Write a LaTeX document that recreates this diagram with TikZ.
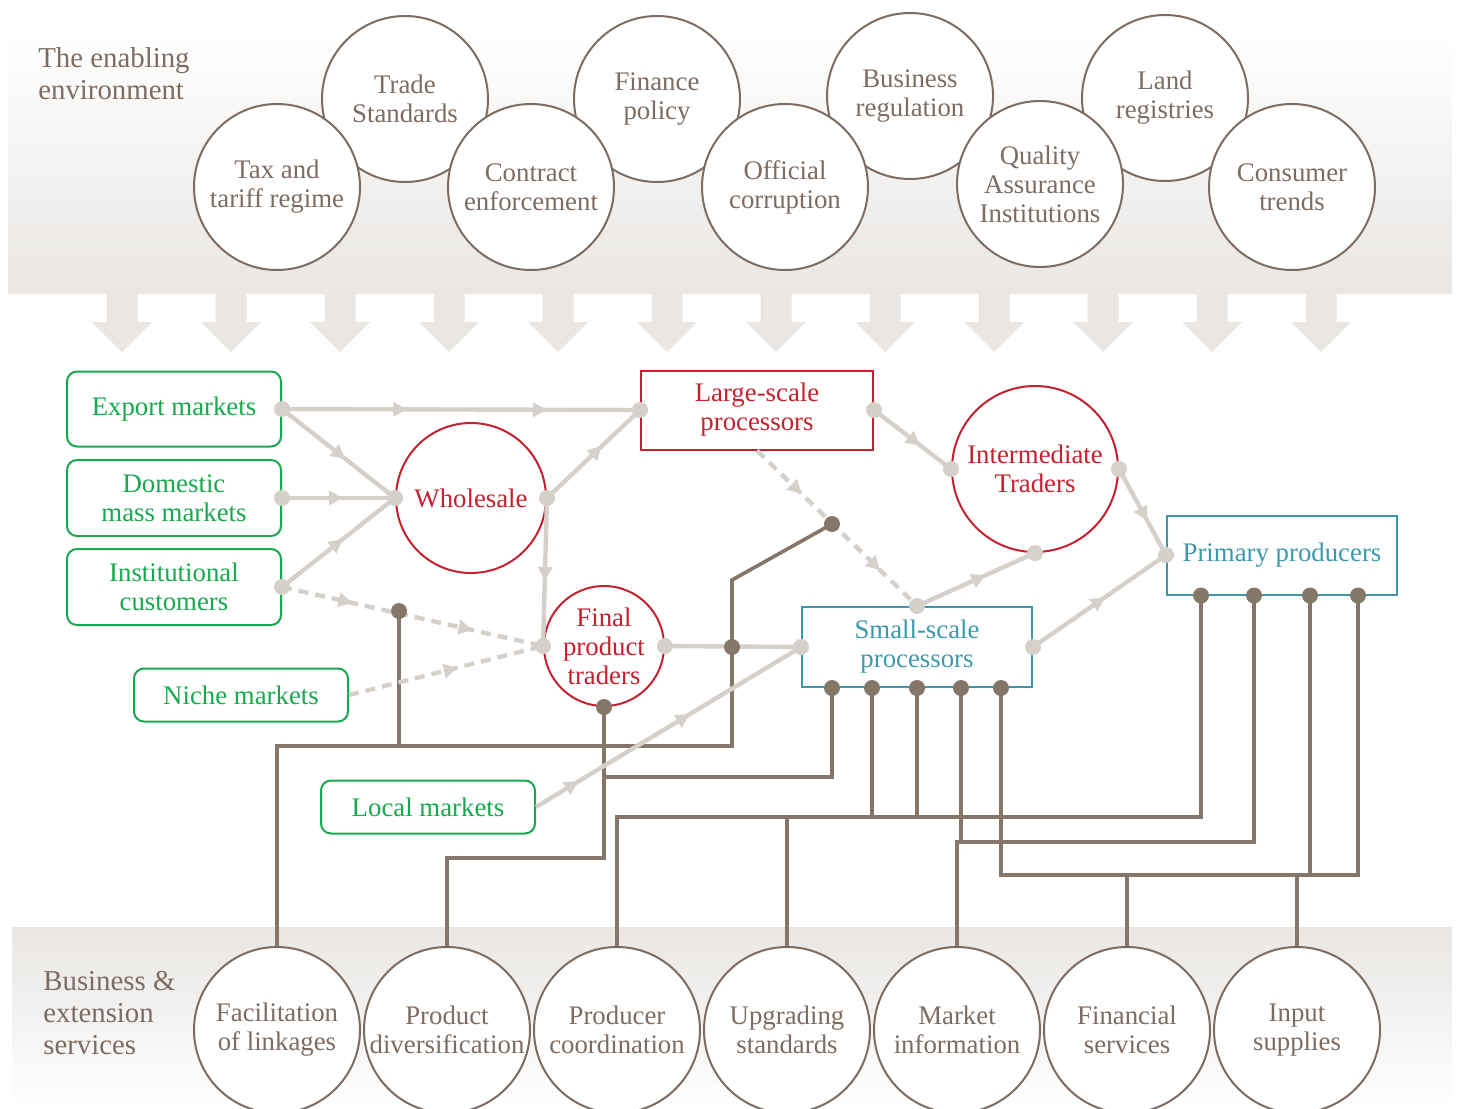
\documentclass[tikz,border=0pt]{standalone}
\usepackage{fontspec}
\setmainfont{Liberation Serif}
\usetikzlibrary{positioning,arrows.meta,shapes,calc,decorations.markings}

\definecolor{bandgray}{RGB}{233,230,227}
\definecolor{earth}{RGB}{125,108,97}
\definecolor{stem}{RGB}{133,118,106}
\definecolor{flowgray}{RGB}{214,208,203}
\definecolor{mktgreen}{RGB}{24,168,78}
\definecolor{actred}{RGB}{196,32,46}
\definecolor{procblue}{RGB}{62,152,172}

\begin{document}
\begin{tikzpicture}[
            x=0.5pt, y=-0.5pt,
            every node/.style={font=\fontsize{13.4}{14.5}\selectfont, align=center, inner sep=0pt},
            envcircle/.style={circle, draw=earth, line width=1pt, fill=white, text=earth, minimum size=83pt},
            market/.style={rectangle, rounded corners=5pt, draw=mktgreen, line width=1pt, text=mktgreen, minimum width=107pt},
            trader/.style={circle, draw=actred, line width=1pt, text=actred},
            bigproc/.style={rectangle, draw=actred, line width=1pt, text=actred, minimum width=116pt, minimum height=39.5pt},
            smallproc/.style={rectangle, draw=procblue, line width=1pt, text=procblue, minimum width=115pt, minimum height=40pt},
            bandtitle/.style={anchor=north west, align=left, text=earth, font=\fontsize{14.4}{16}\selectfont},
            flowline/.style={draw=flowgray, line width=2.2pt},
            dashflow/.style={flowline, dash pattern=on 5pt off 3.5pt},
            stemline/.style={draw=stem, line width=1.8pt},
            arrowat/.style={postaction={decorate, decoration={markings, mark=at position #1 with {\arrow{Triangle[length=7pt,width=7pt]}}}}}
        ]
        \useasboundingbox (0,0) rectangle (1460,1108);

        % background bands and the down arrows
        \fill[top color=white, bottom color=bandgray] (8,33) rectangle (1452,293);
        \fill[top color=bandgray, bottom color=white] (12,927) rectangle (1452,1108);
        \foreach \i [evaluate=\i as \ax using 122+109*\i] in {0,...,11}
            \fill[bandgray] (\ax-15.5,292) -- (\ax-15.5,322) -- (\ax-30,322) -- (\ax,352)
                -- (\ax+30,322) -- (\ax+15.5,322) -- (\ax+15.5,292) -- cycle;

        % enabling environment
        \node[bandtitle] (envtitle) at (38,47) {The enabling\\environment};
        \node[envcircle] (trd) at (405,99) {Trade\\Standards};
        \node[envcircle] (fin) at (657,99) {Finance\\policy};
        \node[envcircle] (bus) at (910,96) {Business\\regulation};
        \node[envcircle] (lnd) at (1165,98) {Land\\registries};
        \node[envcircle] (tax) at (277,187) {Tax and\\tariff regime};
        \node[envcircle] (con) at (531,187) {Contract\\enforcement};
        \node[envcircle] (off) at (785,187) {Official\\corruption};
        \node[envcircle] (qai) at (1040,184) {Quality\\Assurance\\Institutions};
        \node[envcircle] (cns) at (1292,187) {Consumer\\trends};

        % business & extension services
        \node[bandtitle] (bdstitle) at (43,971) {Business \&\\extension\\services};
        \node[envcircle] (fac) at (277,1030) {Facilitation\\of linkages};
        \node[envcircle, right=1pt of fac] (pdv) {Product\\diversification};
        \node[envcircle, right=1pt of pdv] (pco) {Producer\\coordination};
        \node[envcircle, right=1pt of pco] (upg) {Upgrading\\standards};
        \node[envcircle, right=1pt of upg] (mki) {Market\\information};
        \node[envcircle, right=1pt of mki] (fsv) {Financial\\services};
        \node[envcircle, right=1pt of fsv] (inp) {Input\\supplies};

        % markets
        \node[market, minimum height=37.5pt] (exp) at (174,409) {Export markets};
        \node[market, minimum height=38pt] (dom) at (174,498) {Domestic\\mass markets};
        \node[market, minimum height=38pt] (ins) at (174,587) {Institutional\\customers};
        \node[market, minimum height=26.5pt] (nch) at (241,695) {Niche markets};
        \node[market, minimum height=26.5pt] (loc) at (428,807) {Local markets};

        % traders and processors
        \node[trader, minimum size=75pt] (whs) at (471,498) {Wholesale};
        \node[trader, minimum size=60pt] (fpt) at (604,646) {Final\\product\\traders};
        \node[trader, minimum size=83pt] (itr) at (1035,469) {Intermediate\\Traders};
        \node[bigproc] (lsp) at (757,410) {Large-scale\\processors};
        \node[smallproc] (ssp) at (917,647) {Small-scale\\processors};
        \node[smallproc, minimum height=39.5pt] (prp) at (1282,555) {Primary producers};

        % junction points of the service lines
        \foreach \n/\dx in {1/31,2/71,3/116,4/160,5/200}
            \coordinate (ss\n) at ($(ssp.south west)+(\dx,0)$);
        \foreach \n/\dx in {1/35,2/88,3/144,4/192}
            \coordinate (pp\n) at ($(prp.south west)+(\dx,0)$);
        \coordinate (stemA) at (399,611);
        \coordinate (stemB) at (832,524);
        \coordinate (stemC) at (732,647);
        \coordinate (lvA) at (0,746);
        \coordinate (lvB) at (0,858);
        \coordinate (lvC) at (0,817);
        \coordinate (lvD) at (0,842);
        \coordinate (lvE) at (0,875);
        \coordinate (lvF) at (0,777);

        % service lines
        \draw[stemline] (fac.north) -- (fac.north |- lvA) -| (stemC) -- ++(0,-67) -- (stemB);
        \draw[stemline] (stemA) -- (stemA |- lvA);
        \draw[stemline] (pdv.north) -- (pdv.north |- lvB) -| (fpt.south);
        \draw[stemline] (ss1) |- (fpt.south |- lvF);
        \draw[stemline] (pco.north) -- (pco.north |- lvC) -| (pp1);
        \draw[stemline] (upg.north) -- (upg.north |- lvC);
        \draw[stemline] (ss2) -- (ss2 |- lvC);
        \draw[stemline] (ss3) -- (ss3 |- lvC);
        \draw[stemline] (mki.north) -- (mki.north |- lvD) -| (pp2);
        \draw[stemline] (ss4) -- (ss4 |- lvD);
        \draw[stemline] (ss5) -- (ss5 |- lvE) -| (pp4);
        \draw[stemline] (pp3) -- (pp3 |- lvE);
        \draw[stemline] (fsv.north) -- (fsv.north |- lvE);
        \draw[stemline] (inp.north) -- (inp.north |- lvE);

        % product flows
        \draw[flowline, arrowat=0.35, arrowat=0.74] (exp.east) -- (lsp.west);
        \draw[flowline, arrowat=0.56] (exp.east) -- (whs.west);
        \draw[flowline, arrowat=0.54] (dom.east) -- (whs.west);
        \draw[flowline, arrowat=0.54] (ins.east) -- (whs.west);
        \draw[dashflow, arrowat=0.27, arrowat=0.73] (ins.east) -- (fpt.west);
        \draw[dashflow, arrowat=0.56] (nch.east) -- (fpt.west);
        \draw[flowline, arrowat=0.59] (whs.east) -- (lsp.west);
        \draw[flowline, arrowat=0.56] (whs.east) -- (fpt.west);
        \draw[flowline] (fpt.east) -- (ssp.west);
        \draw[flowline, arrowat=0.16, arrowat=0.58] (loc.east) -- (ssp.west);
        \draw[dashflow, arrowat=0.28, arrowat=0.77] (lsp.south) -- (ssp.north);
        \draw[flowline, arrowat=0.6] (lsp.east) -- (itr.west);
        \draw[flowline, arrowat=0.58] (ssp.north) -- (itr.south);
        \draw[flowline, arrowat=0.6] (itr.east) -- (prp.west);
        \draw[flowline, arrowat=0.54] (ssp.east) -- (prp.west);

        % dots
        \foreach \p in {exp.east, dom.east, ins.east, whs.west, whs.east, lsp.west, lsp.east,
                        fpt.west, fpt.east, ssp.west, ssp.north, ssp.east, itr.west, itr.east, itr.south, prp.west}
            \fill[flowgray] (\p) circle (4pt);
        \foreach \p in {stemA, stemB, stemC, fpt.south, ss1, ss2, ss3, ss4, ss5, pp1, pp2, pp3, pp4}
            \fill[stem] (\p) circle (4pt);
        \end{tikzpicture}
\end{document}
